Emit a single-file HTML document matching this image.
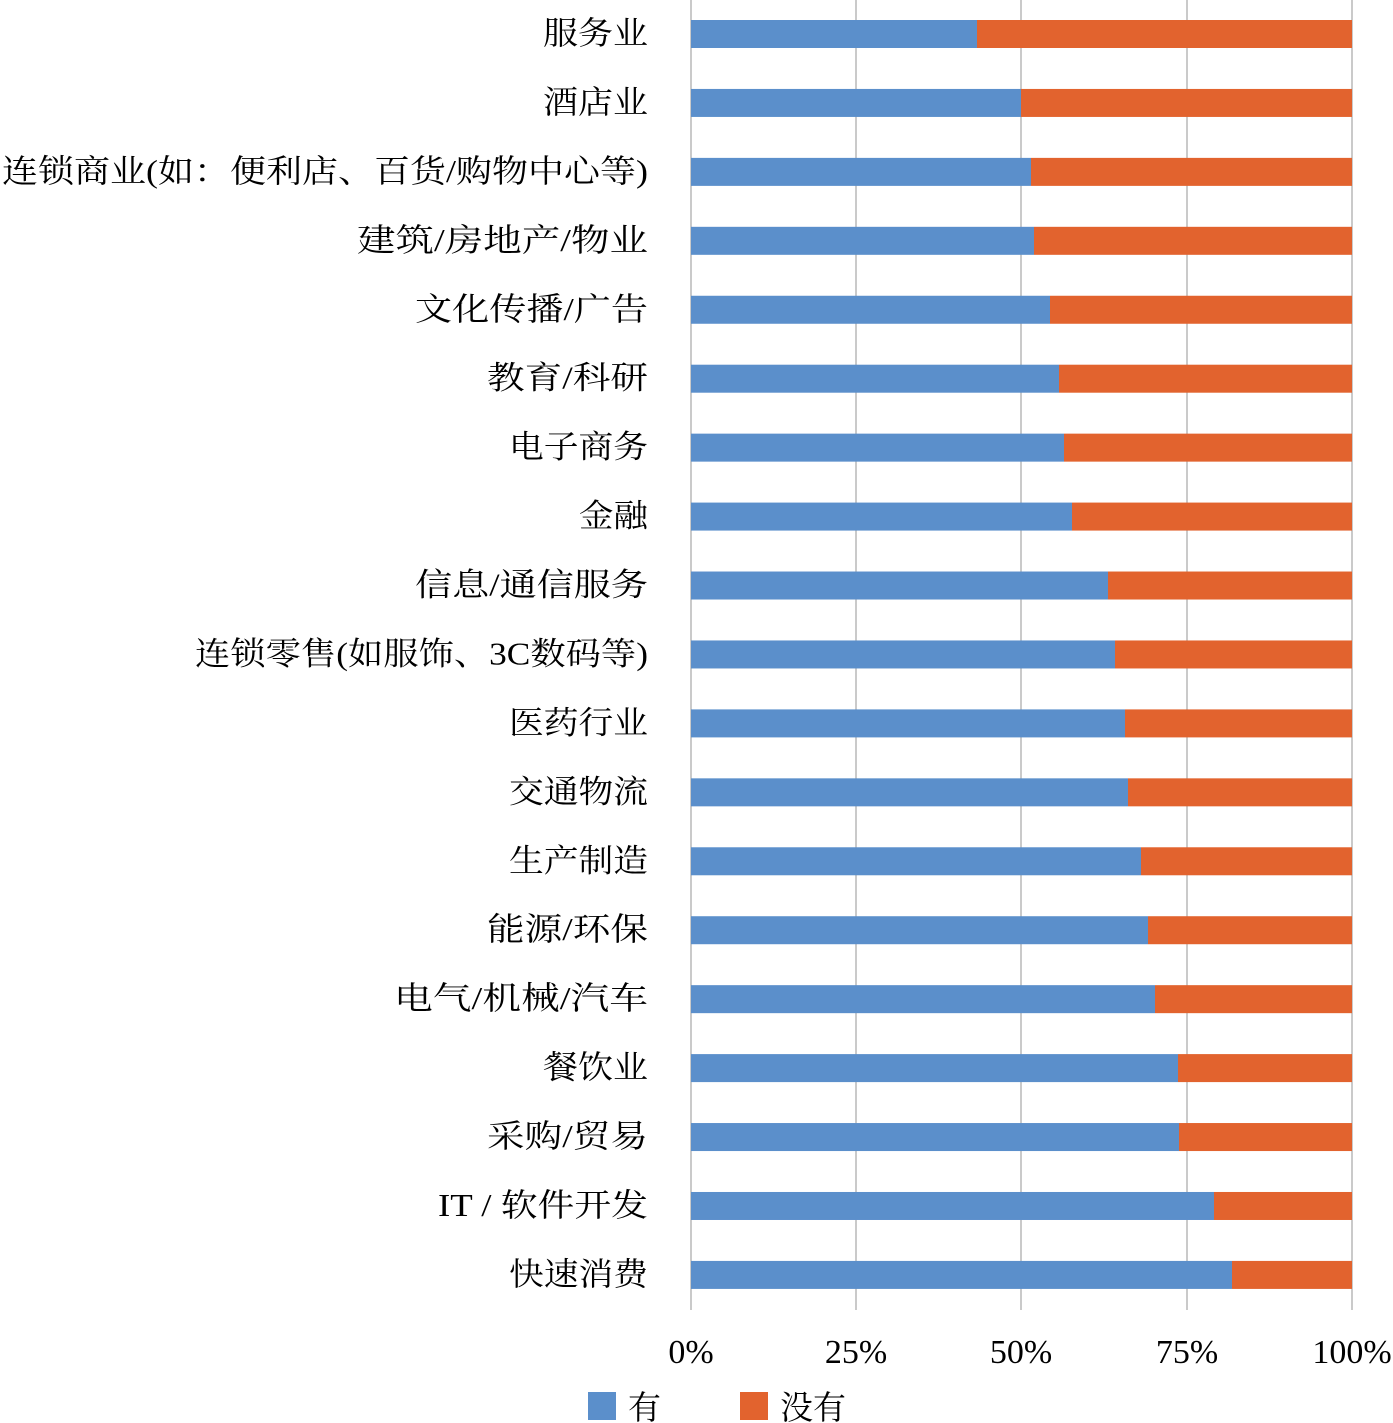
<!DOCTYPE html>
<html><head><meta charset="utf-8"><style>body{margin:0;background:#fff}svg{display:block}text{font-family:"Liberation Serif","Noto Serif CJK SC",serif;fill:#000}</style></head>
<body>
<svg width="1393" height="1423" viewBox="0 0 1393 1423" xmlns="http://www.w3.org/2000/svg">
<g stroke="#a6a6a6" stroke-width="1.2">
<line x1="691" y1="0" x2="691" y2="1310"/><line x1="856" y1="0" x2="856" y2="1310"/><line x1="1021" y1="0" x2="1021" y2="1310"/><line x1="1187" y1="0" x2="1187" y2="1310"/><line x1="1352" y1="0" x2="1352" y2="1310"/>
</g>
<g id="bars"></g>
<g font-size="34" text-anchor="middle">
<text x="691" y="1363">0%</text><text x="856" y="1363">25%</text><text x="1021" y="1363">50%</text><text x="1187" y="1363">75%</text><text x="1352" y="1363">100%</text>
</g>
<rect x="588" y="1392" width="28" height="28" fill="#5b8fcb"/>
<text x="628" y="1419" font-size="33">有</text>
<rect x="740" y="1392" width="28" height="28" fill="#e2632e"/>
<text x="780" y="1419" font-size="33">没有</text>
<g id="labels" font-size="32" text-anchor="end"></g>
</svg>
<script>
const d=[["服务业",543,977],["酒店业",543,1021],["连锁商业(如：便利店、百货/购物中心等)",2,1031],["建筑/房地产/物业",357,1034],["文化传播/广告",415,1050],["教育/科研",487,1059],["电子商务",509,1064],["金融",579,1072],["信息/通信服务",415,1108],["连锁零售(如服饰、3C数码等)",195,1115],["医药行业",509,1125],["交通物流",509,1128],["生产制造",509,1141],["能源/环保",487,1148],["电气/机械/汽车",394,1155],["餐饮业",543,1178],["采购/贸易",487,1179],["IT / 软件开发",438,1214],["快速消费",509,1232]];
const ns="http://www.w3.org/2000/svg",B=document.getElementById("bars"),L=document.getElementById("labels");
d.forEach((r,i)=>{const c=34+i*68.94;
const a=document.createElementNS(ns,"rect");a.setAttribute("x",691);a.setAttribute("y",c-14);a.setAttribute("width",r[2]-691);a.setAttribute("height",28);a.setAttribute("fill","#5b8fcb");B.appendChild(a);
const b=document.createElementNS(ns,"rect");b.setAttribute("x",r[2]);b.setAttribute("y",c-14);b.setAttribute("width",1352-r[2]);b.setAttribute("height",28);b.setAttribute("fill","#e2632e");B.appendChild(b);
const t=document.createElementNS(ns,"text");t.setAttribute("x",648);t.setAttribute("y",c+10);t.setAttribute("textLength",648-r[1]);t.setAttribute("lengthAdjust","spacingAndGlyphs");t.textContent=r[0];L.appendChild(t);});
</script>
</body></html>
